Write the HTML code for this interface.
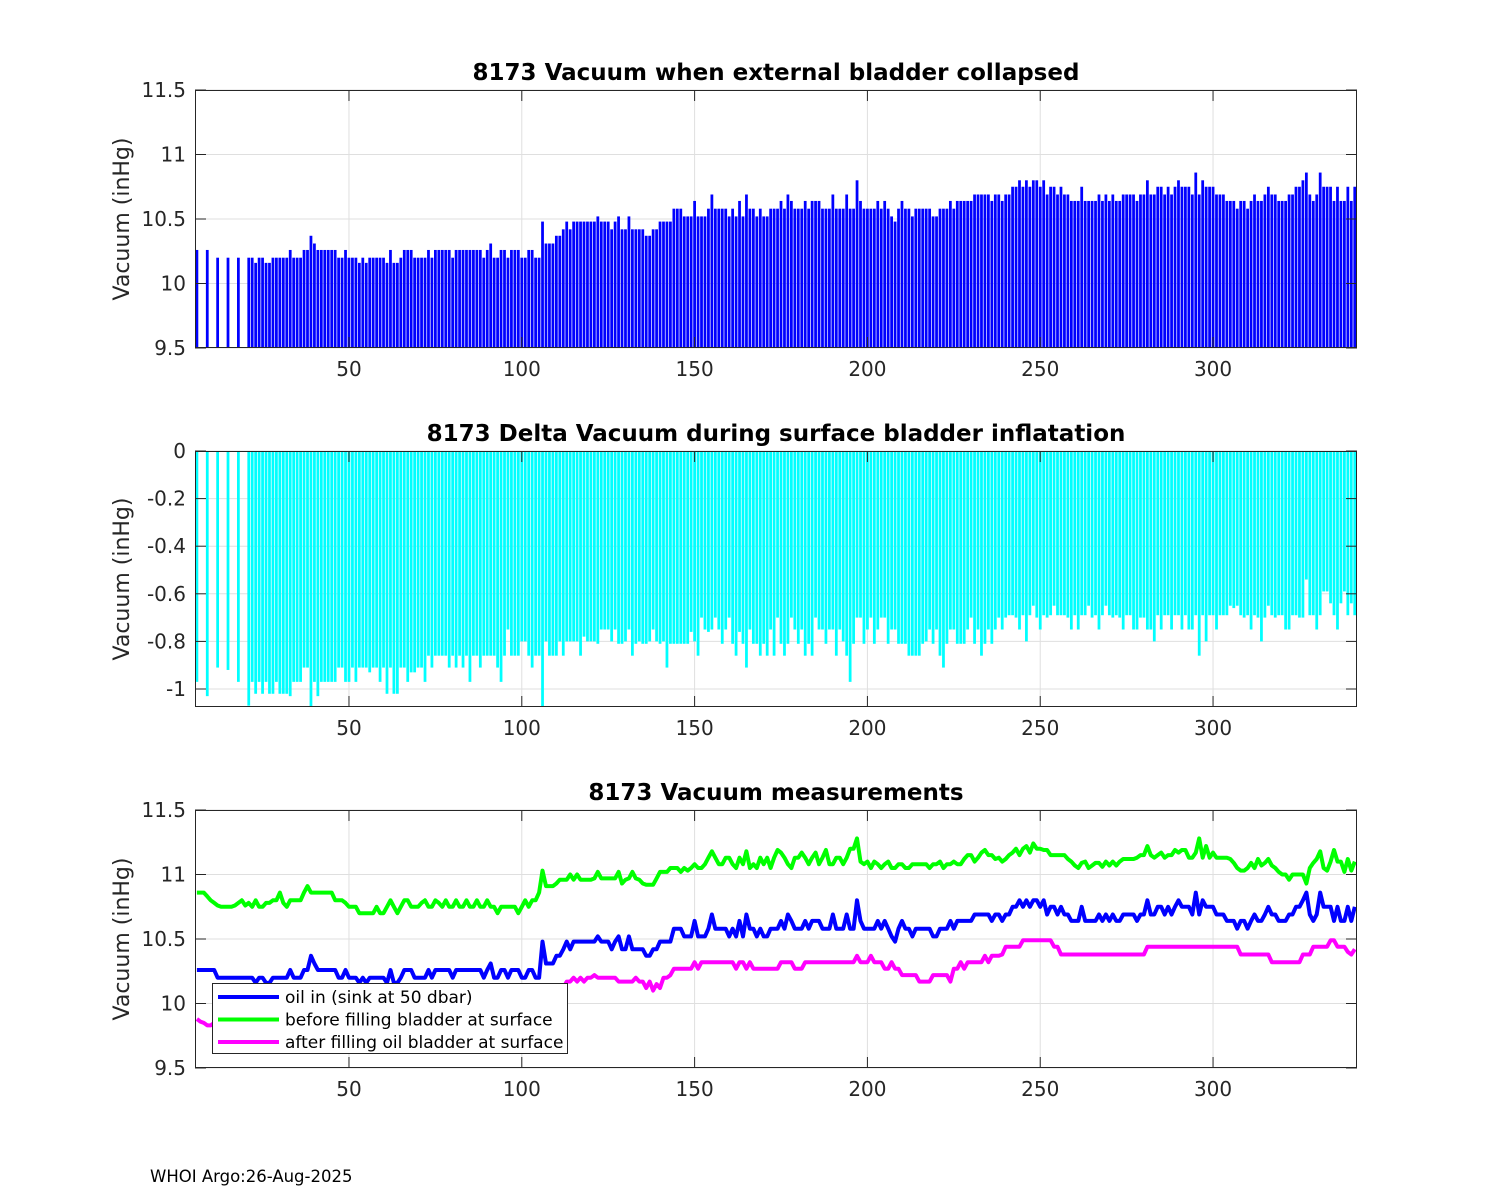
<!DOCTYPE html>
<html><head><meta charset="utf-8"><style>
html,body{margin:0;padding:0;background:#fff;}
svg{display:block;font-family:"DejaVu Sans","Liberation Sans",sans-serif;}
</style></head><body>
<svg id="chart" width="1500" height="1200" viewBox="0 0 1500 1200" xmlns="http://www.w3.org/2000/svg">
<rect x="0" y="0" width="1500" height="1200" fill="#fff"/>
<text x="150" y="1182" font-size="16.5" fill="#000">WHOI Argo:26-Aug-2025</text>
</svg>
<script>
const firstCycle = 6;
const xTicks = [50,100,150,200,250,300];
const yTicksVac = [9.5,10,10.5,11,11.5];
const yTickLabelsVac = ["9.5","10","10.5","11","11.5"];
const yTicksDelta = [0,-0.2,-0.4,-0.6,-0.8,-1];
const yTickLabelsDelta = ["0","-0.2","-0.4","-0.6","-0.8","-1"];
const oilIn = [
10.26,10.26,10.26,10.26,10.26,
10.26,10.2,10.2,10.2,10.2,10.2,10.2,10.2,10.2,10.2,
10.2,10.2,10.16,10.2,10.2,10.16,10.16,10.2,10.2,10.2,
10.2,10.2,10.26,10.2,10.2,10.2,10.26,10.26,10.37,10.31,
10.26,10.26,10.26,10.26,10.26,10.26,10.2,10.2,10.26,10.2,10.2,10.2,10.16,10.2,10.16,10.2,10.2,10.2,10.2,10.2,
10.16,10.26,10.16,10.16,10.2,10.26,10.26,10.26,10.2,10.2,10.2,10.2,10.26,10.2,10.26,10.26,10.26,10.26,10.26,10.2,
10.26,10.26,10.26,10.26,10.26,10.26,10.26,10.26,10.2,10.26,10.31,10.2,10.2,10.26,10.26,10.2,10.26,10.26,10.26,10.2,
10.2,10.26,10.26,10.2,10.2,10.48,10.31,10.31,10.31,10.37,10.37,10.42,10.48,10.42,10.48,10.48,10.48,10.48,10.48,10.48,
10.48,10.52,10.48,10.48,10.48,10.42,10.48,10.52,10.42,10.42,10.52,10.42,10.42,10.42,10.42,10.37,10.37,10.42,10.42,10.48,
10.48,10.48,10.48,10.58,10.58,10.58,10.52,10.52,10.52,10.64,10.52,10.52,10.52,10.58,10.69,10.58,10.58,10.58,10.58,10.52,
10.58,10.52,10.64,10.52,10.69,10.58,10.58,10.52,10.58,10.52,10.52,10.58,10.58,10.58,10.64,10.58,10.69,10.64,10.58,10.58,
10.58,10.64,10.58,10.64,10.64,10.64,10.58,10.58,10.58,10.69,10.58,10.58,10.58,10.69,10.58,10.58,10.8,10.64,10.58,10.58,
10.58,10.58,10.64,10.58,10.64,10.58,10.52,10.48,10.58,10.64,10.58,10.58,10.52,10.58,10.58,10.58,10.58,10.58,10.52,10.52,
10.58,10.58,10.58,10.64,10.58,10.64,10.64,10.64,10.64,10.64,10.69,10.69,10.69,10.69,10.69,10.64,10.69,10.69,10.64,10.69,
10.69,10.75,10.75,10.8,10.75,10.8,10.75,10.8,10.8,10.75,10.8,10.69,10.75,10.75,10.69,10.75,10.69,10.69,10.64,10.64,
10.64,10.75,10.64,10.64,10.64,10.64,10.69,10.64,10.69,10.64,10.69,10.64,10.64,10.69,10.69,10.69,10.69,10.64,10.69,10.69,
10.8,10.69,10.69,10.75,10.75,10.69,10.75,10.69,10.75,10.8,10.75,10.75,10.75,10.69,10.86,10.69,10.8,10.75,10.75,10.75,
10.69,10.69,10.69,10.64,10.64,10.64,10.58,10.64,10.64,10.58,10.64,10.69,10.64,10.64,10.69,10.75,10.69,10.69,10.64,10.64,
10.64,10.69,10.69,10.75,10.75,10.8,10.86,10.69,10.64,10.69,10.86,10.75,10.75,10.75,10.64,10.75,10.64,10.64,10.75,10.64,10.75
];
const deltaVac = [
-0.97,null,null,-1.03,null,
null,-0.91,null,null,-0.92,null,null,-0.97,null,null,
-1.07,-0.97,-1.02,-0.97,-1.02,-0.97,-1.02,-1.02,-0.97,-1.02,
-1.02,-1.02,-1.03,-0.97,-0.97,-0.97,-0.91,-0.91,-1.08,-0.97,
-1.03,-0.97,-0.97,-0.97,-0.97,-0.97,-0.91,-0.91,-0.97,-0.97,-0.91,-0.97,-0.91,-0.91,-0.91,-0.93,-0.91,-0.91,-0.97,-0.91,
-1.02,-0.91,-1.02,-1.02,-0.91,-0.91,-0.97,-0.93,-0.93,-0.91,-0.91,-0.97,-0.86,-0.91,-0.86,-0.86,-0.86,-0.86,-0.91,-0.86,
-0.91,-0.86,-0.91,-0.86,-0.97,-0.86,-0.86,-0.91,-0.86,-0.86,-0.86,-0.86,-0.91,-0.97,-0.86,-0.75,-0.86,-0.86,-0.86,-0.80,
-0.80,-0.86,-0.91,-0.86,-0.86,-1.08,-0.80,-0.86,-0.86,-0.86,-0.80,-0.86,-0.80,-0.80,-0.80,-0.80,-0.86,-0.78,-0.80,-0.80,
-0.80,-0.81,-0.75,-0.75,-0.75,-0.80,-0.75,-0.81,-0.81,-0.80,-0.75,-0.86,-0.81,-0.80,-0.81,-0.81,-0.80,-0.75,-0.80,-0.81,
-0.80,-0.91,-0.81,-0.81,-0.81,-0.81,-0.81,-0.81,-0.76,-0.80,-0.86,-0.70,-0.75,-0.76,-0.75,-0.70,-0.75,-0.81,-0.75,-0.70,
-0.81,-0.86,-0.76,-0.81,-0.91,-0.75,-0.81,-0.81,-0.86,-0.81,-0.86,-0.75,-0.86,-0.70,-0.81,-0.86,-0.81,-0.70,-0.75,-0.81,
-0.75,-0.86,-0.81,-0.86,-0.70,-0.75,-0.75,-0.81,-0.75,-0.75,-0.86,-0.75,-0.80,-0.86,-0.97,-0.81,-0.70,-0.70,-0.81,-0.75,
-0.70,-0.81,-0.75,-0.70,-0.70,-0.81,-0.75,-0.75,-0.81,-0.81,-0.81,-0.86,-0.86,-0.86,-0.86,-0.81,-0.80,-0.75,-0.81,-0.75,
-0.86,-0.91,-0.81,-0.75,-0.75,-0.81,-0.81,-0.81,-0.75,-0.70,-0.81,-0.75,-0.86,-0.81,-0.75,
-0.81,-0.75,-0.70,-0.75,-0.70,-0.69,-0.69,-0.70,-0.75,-0.69,-0.80,-0.69,-0.65,-0.70,-0.75,-0.69,-0.70,-0.69,-0.65,-0.69,-0.69,-0.69,-0.70,-0.75,-0.69,
-0.75,-0.69,-0.69,-0.65,-0.70,-0.69,-0.75,-0.69,-0.65,-0.69,-0.70,-0.69,-0.70,-0.75,-0.69,-0.69,-0.75,-0.75,-0.70,-0.70,
-0.75,-0.75,-0.80,-0.69,-0.75,-0.69,-0.69,-0.75,-0.69,-0.69,-0.75,-0.69,-0.75,-0.75,-0.69,-0.86,-0.69,-0.80,-0.69,-0.69,
-0.75,-0.69,-0.69,-0.69,-0.65,-0.66,-0.65,-0.69,-0.70,-0.69,-0.75,-0.69,-0.70,-0.80,-0.70,-0.65,-0.69,-0.70,-0.69,-0.69,
-0.75,-0.75,-0.69,-0.69,-0.70,-0.70,-0.54,-0.69,-0.69,-0.75,-0.69,-0.59,-0.59,-0.64,-0.69,-0.75,-0.64,-0.59,-0.69,-0.64,-0.69
];
const beforeFill = [
10.86,10.86,10.86,10.83,10.8,
10.78,10.76,10.75,10.75,10.75,10.75,10.76,10.78,10.8,10.76,
10.78,10.75,10.8,10.75,10.75,10.78,10.78,10.8,10.8,10.86,
10.78,10.75,10.8,10.8,10.8,10.8,10.86,10.91,10.86,10.86,
10.86,10.86,10.86,10.86,10.86,10.8,10.8,10.8,10.78,10.75,
10.75,10.75,10.7,10.7,10.7,10.7,10.7,10.75,10.7,10.7,
10.75,10.8,10.75,10.7,10.75,10.8,10.8,10.75,10.75,10.75,
10.78,10.8,10.75,10.75,10.8,10.78,10.75,10.8,10.75,10.75,
10.8,10.75,10.75,10.8,10.75,10.75,10.8,10.75,10.75,10.8,
10.75,10.75,10.7,10.75,10.75,10.75,10.75,10.75,10.7,10.75,
10.8,10.75,10.8,10.8,10.86,11.03,10.91,10.91,10.91,10.93,
10.96,10.96,10.96,11.0,10.96,11.0,10.96,10.96,10.96,10.96,
10.97,11.02,10.97,10.97,10.97,10.97,10.97,11.02,10.93,10.96,
10.97,11.02,10.97,10.96,10.93,10.92,10.92,10.92,10.97,11.02,
11.02,11.02,11.05,11.05,11.05,11.02,11.05,11.03,11.05,11.08,
11.05,11.05,11.08,11.13,11.18,11.13,11.08,11.08,11.13,11.13,
11.08,11.05,11.13,11.08,11.18,11.05,11.08,11.05,11.13,11.08,
11.13,11.05,11.13,11.19,11.17,11.13,11.08,11.05,11.13,11.13,
11.17,11.13,11.08,11.13,11.17,11.08,11.13,11.19,11.08,11.08,
11.13,11.13,11.08,11.13,11.2,11.2,11.28,11.1,11.08,11.1,
11.05,11.1,11.08,11.05,11.08,11.1,11.05,11.05,11.08,11.08,
11.05,11.05,11.08,11.08,11.08,11.08,11.08,11.05,11.08,11.08,
11.1,11.05,11.08,11.08,11.1,11.08,11.08,11.12,11.15,11.15,11.1,11.13,11.17,11.19,11.15,
11.15,11.12,11.13,11.1,11.12,11.15,11.17,11.2,11.15,11.2,11.22,11.17,11.24,11.2,11.2,
11.19,11.19,11.15,11.15,11.15,11.15,11.15,11.12,11.1,11.07,
11.05,11.09,11.1,11.05,11.07,11.09,11.09,11.06,11.1,11.07,
11.1,11.07,11.1,11.12,11.12,11.12,
11.12,11.13,11.15,11.15,11.22,11.15,11.13,11.15,11.17,11.13,11.15,11.15,11.19,11.17,
11.19,11.19,11.13,11.13,11.17,11.28,11.13,11.22,11.13,11.17,
11.13,11.13,11.13,11.13,11.12,11.09,11.05,11.03,11.03,11.05,
11.09,11.05,11.12,11.07,11.09,11.12,11.07,11.05,11.02,11.0,
11.0,10.96,11.0,11.0,11.0,11.0,10.93,11.05,11.09,11.12,
11.18,11.05,11.03,11.1,11.19,11.1,11.1,11.02,11.12,11.03,11.1
];
const afterFill = [
9.88,9.86,9.85,9.83,9.83,9.85,9.88,9.9,9.9,9.9,9.92,9.92,9.92,9.92,9.92,
9.95,9.95,9.95,9.95,9.95,9.95,9.95,9.95,9.95,9.95,9.95,9.95,9.95,9.95,9.95,
9.95,9.95,9.95,9.95,9.95,9.95,9.95,9.95,9.95,9.95,9.95,9.95,9.95,9.95,9.95,
9.97,9.97,9.97,9.97,9.97,9.97,9.97,9.97,9.97,9.97,9.97,9.97,9.97,9.97,9.97,
9.97,9.97,9.97,9.97,9.97,9.97,9.97,9.97,9.97,9.97,9.97,9.97,9.97,9.97,9.97,
10.0,10.0,10.0,10.0,10.0,10.0,10.0,10.0,10.0,10.0,10.0,10.0,10.0,10.0,10.0,10.0,10.0,10.0,10.0,10.0,
10.02,10.02,10.02,10.02,10.02,
10.05,10.08,10.08,10.08,10.1,
10.1,10.12,10.17,10.17,10.2,10.17,10.2,10.17,10.2,10.2,
10.22,10.2,10.2,10.2,10.2,10.2,10.2,10.17,10.17,10.17,10.17,10.17,10.2,10.17,10.17,10.12,10.17,10.1,10.15,10.12,
10.2,10.2,10.22,10.27,10.27,10.27,10.27,10.27,10.27,10.32,
10.27,10.32,10.32,10.32,10.32,10.32,10.32,10.32,10.32,10.32,
10.32,10.27,10.32,10.32,10.27,10.32,10.27,10.27,10.27,10.27,
10.27,10.27,10.27,10.27,10.32,10.32,10.32,10.32,10.27,10.27,
10.27,10.32,10.32,10.32,10.32,10.32,10.32,10.32,10.32,10.32,
10.32,10.32,10.32,10.32,10.32,10.32,10.37,10.32,10.32,10.32,
10.37,10.32,10.32,10.32,10.27,10.27,10.32,10.27,10.27,10.22,
10.22,10.22,10.22,10.22,10.17,10.17,10.17,10.17,10.22,10.22,
10.22,10.22,10.22,10.17,10.27,10.27,10.32,10.27,10.32,10.32,
10.32,10.32,10.32,10.37,10.32,
10.37,10.37,10.37,10.38,10.44,
10.44,10.44,10.44,10.44,
10.49,10.49,10.49,10.49,10.49,10.49,10.49,10.49,10.49,
10.44,10.44,10.38,
10.38,10.38,10.38,10.38,10.38,10.38,10.38,10.38,10.38,10.38,10.38,10.38,
10.38,10.38,10.38,10.38,10.38,10.38,10.38,10.38,10.38,10.38,10.38,10.38,
10.44,10.44,10.44,10.44,10.44,10.44,10.44,10.44,10.44,10.44,10.44,10.44,10.44,10.44,
10.44,10.44,10.44,10.44,10.44,10.44,10.44,10.44,10.44,10.44,10.44,10.44,10.44,
10.38,10.38,10.38,10.38,10.38,10.38,10.38,10.38,10.38,
10.32,10.32,10.32,10.32,10.32,10.32,10.32,10.32,10.32,
10.38,10.38,10.38,
10.44,10.44,10.44,10.44,10.44,
10.49,10.49,
10.44,10.44,10.44,
10.4,10.38,10.42
];

const NS = "http://www.w3.org/2000/svg";
const svg = document.getElementById('chart');
const XMIN = 5.45, XMAX = 341.65, PL = 195, PR = 1357;
function xs(c){ return PL + (c - XMIN) / (XMAX - XMIN) * (PR - PL); }
function mk(tag, attrs, parent){
  const e = document.createElementNS(NS, tag);
  for (const k in attrs) e.setAttribute(k, attrs[k]);
  (parent || svg).appendChild(e);
  return e;
}
function cycleOf(i){ return firstCycle + i; }

function axes(name, top, bottom, ymin, ymax, yt, ytl, title){
  const ys = v => bottom - (v - ymin) / (ymax - ymin) * (bottom - top);
  const g = mk('g', {});
  
  
  mk('rect', {x:PL, y:top, width:PR-PL, height:bottom-top, fill:'#fff'}, g);
  xTicks.forEach(t => {
    const l = mk('line', {x1:xs(t), x2:xs(t), y1:top, y2:bottom, stroke:'#dfdfdf', 'stroke-width':1}, g);
    
    
  });
  yt.forEach(t => {
    const l = mk('line', {x1:PL, x2:PR, y1:ys(t), y2:ys(t), stroke:'#dfdfdf', 'stroke-width':1}, g);
    
    
  });
  const plot = mk('g', {}, g);
  
  
  const frame = mk('g', {}, g);
  
  
  xTicks.forEach(t => {
    mk('line', {x1:xs(t), x2:xs(t), y1:bottom, y2:bottom-11, stroke:'#262626'}, frame);
    mk('line', {x1:xs(t), x2:xs(t), y1:top, y2:top+11, stroke:'#262626'}, frame);
    const tx = mk('text', {x:xs(t), y:bottom+28, 'font-size':20, fill:'#262626', 'text-anchor':'middle'}, frame);
    tx.textContent = t;
    
    
  });
  yt.forEach((t, i) => {
    mk('line', {x1:PL, x2:PL+11, y1:ys(t), y2:ys(t), stroke:'#262626'}, frame);
    mk('line', {x1:PR, x2:PR-11, y1:ys(t), y2:ys(t), stroke:'#262626'}, frame);
    const tx = mk('text', {x:PL-9, y:ys(t)+7, 'font-size':20, fill:'#262626', 'text-anchor':'end'}, frame);
    tx.textContent = ytl[i];
    
    
  });
  mk('rect', {x:PL+0.5, y:top+0.5, width:PR-PL-1, height:bottom-top-1, fill:'none', stroke:'#262626', 'stroke-width':1}, frame);
  const yl = mk('text', {x:0, y:0, 'font-size':22, fill:'#262626', 'text-anchor':'middle', transform:`translate(129,${(top+bottom)/2}) rotate(-90)`}, frame);
  yl.textContent = 'Vacuum (inHg)';
  
  
  const tt = mk('text', {x:(PL+PR)/2, y:top-10, 'font-size':23, 'font-weight':'bold', fill:'#000', 'text-anchor':'middle'}, frame);
  tt.textContent = title;
  
  
  return {ys, plot, frame};
}

const bw = 0.8 * (PR - PL) / (XMAX - XMIN);

// Panel 1
const a1 = axes('vacuum-collapsed-panel', 90, 348, 9.5, 11.5, yTicksVac, yTickLabelsVac, '8173 Vacuum when external bladder collapsed');
oilIn.forEach((v, i) => {
  if (deltaVac[i] === null || v === null) return;
  const c = cycleOf(i), x = xs(c);
  const y = a1.ys(v);
  const r = mk('rect', {x:x-bw/2, y:y, width:bw, height:348-y, fill:'#0000ff'}, a1.plot);
  
  
});

// Panel 2
const a2 = axes('delta-vacuum-panel', 451, 707, -1.0756, 0, yTicksDelta, yTickLabelsDelta, '8173 Delta Vacuum during surface bladder inflatation');
deltaVac.forEach((v, i) => {
  if (v === null) return;
  const c = cycleOf(i), x = xs(c);
  const y0 = a2.ys(0), y = Math.min(a2.ys(v), 707);
  const r = mk('rect', {x:x-bw/2, y:y0, width:bw, height:y-y0, fill:'#00ffff'}, a2.plot);
  
  
});

// Panel 3
const a3 = axes('vacuum-measurements-panel', 810, 1068, 9.5, 11.5, yTicksVac, yTickLabelsVac, '8173 Vacuum measurements');
const cp = mk('clipPath', {id:'clip3'});
mk('rect', {x:PL, y:810, width:PR-PL, height:258}, cp);
function linePath(arr){
  const pts = [];
  arr.forEach((v, i) => { if (v !== null) pts.push(xs(cycleOf(i)).toFixed(1) + ',' + a3.ys(v).toFixed(1)); });
  return 'M' + pts.join('L');
}
const ln1 = mk('path', {d:linePath(beforeFill), fill:'none', stroke:'#00ff00', 'stroke-width':4, 'stroke-linejoin':'round', 'clip-path':'url(#clip3)'}, a3.plot);


const ln2 = mk('path', {d:linePath(oilIn), fill:'none', stroke:'#0000ff', 'stroke-width':4, 'stroke-linejoin':'round', 'clip-path':'url(#clip3)'}, a3.plot);


const ln3 = mk('path', {d:linePath(afterFill), fill:'none', stroke:'#ff00ff', 'stroke-width':4, 'stroke-linejoin':'round', 'clip-path':'url(#clip3)'}, a3.plot);



// Legend
const lg = mk('g', {}, a3.frame);


mk('rect', {x:212.5, y:983.5, width:355, height:70, fill:'#fff', stroke:'#262626', 'stroke-width':1}, lg);
const legendLabels = ['oil in (sink at 50 dbar)', 'before filling bladder at surface', 'after filling oil bladder at surface'];
const legendColors = ['#0000ff', '#00ff00', '#ff00ff'];
legendLabels.forEach((t, i) => {
  const cy = 997 + i * 22.5;
  const e = mk('g', {}, lg);
  
  
  mk('line', {x1:218, x2:279, y1:cy, y2:cy, stroke:legendColors[i], 'stroke-width':4}, e);
  const tx = mk('text', {x:285, y:cy+6, 'font-size':17, fill:'#000'}, e);
  tx.textContent = t;
});
</script>
</body></html>
